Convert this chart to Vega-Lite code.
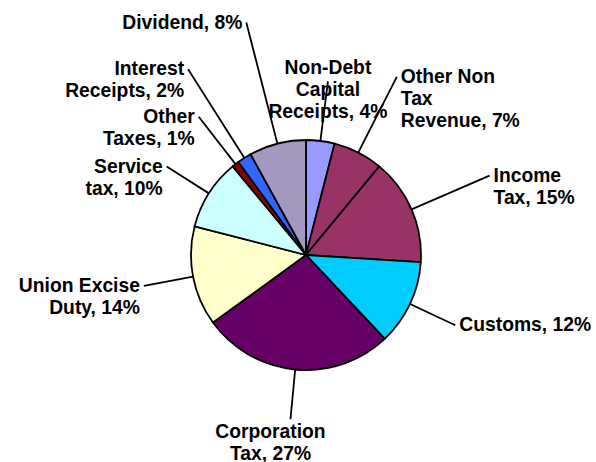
{
  "$schema": "https://vega.github.io/schema/vega-lite/v6.json",
  "width": 540,
  "height": 400,
  "autosize": {"type": "none"},
  "padding": {"left": 36, "top": 55, "right": 20, "bottom": 7},
  "background": "white",
  "config": {
    "view": {"stroke": null},
    "text": {"font": "Liberation Sans", "fontWeight": "bold", "fontSize": 19.3, "lineBreak": "\n", "lineHeight": 22, "color": "black"},
    "arc": {"stroke": "black", "strokeWidth": 1.8}
  },
  "data": {
    "values": [
      {"order": 1, "category": "Non-Debt Capital Receipts", "share": 4, "label": "Non-Debt\nCapital\nReceipts, 4%"},
      {"order": 2, "category": "Other Non Tax Revenue", "share": 7, "label": "Other Non\nTax\nRevenue, 7%"},
      {"order": 3, "category": "Income Tax", "share": 15, "label": "Income\nTax, 15%"},
      {"order": 4, "category": "Customs", "share": 12, "label": "Customs, 12%"},
      {"order": 5, "category": "Corporation Tax", "share": 27, "label": "Corporation\nTax, 27%"},
      {"order": 6, "category": "Union Excise Duty", "share": 14, "label": "Union Excise\nDuty, 14%"},
      {"order": 7, "category": "Service tax", "share": 10, "label": "Service\ntax, 10%"},
      {"order": 8, "category": "Other Taxes", "share": 1, "label": "Other\nTaxes, 1%"},
      {"order": 9, "category": "Interest Receipts", "share": 2, "label": "Interest\nReceipts, 2%"},
      {"order": 10, "category": "Dividend", "share": 8, "label": "Dividend, 8%"}
    ]
  },
  "encoding": {
    "theta": {"field": "share", "type": "quantitative", "stack": true},
    "order": {"field": "order", "type": "quantitative"}
  },
  "layer": [
    {
      "mark": {"type": "arc", "outerRadius": 115},
      "encoding": {
        "color": {
          "field": "category",
          "type": "nominal",
          "legend": null,
          "scale": {
            "domain": ["Non-Debt Capital Receipts", "Other Non Tax Revenue", "Income Tax", "Customs", "Corporation Tax", "Union Excise Duty", "Service tax", "Other Taxes", "Interest Receipts", "Dividend"],
            "range": ["#9999FF", "#993366", "#993366", "#00CCFF", "#660066", "#FFFFCC", "#CCFFFF", "#880000", "#3366FF", "#A399C0"]
          }
        }
      }
    },
    {
      "mark": {"type": "arc", "innerRadius": 115, "outerRadius": 165, "padAngle": 1.6, "fill": null},
      "encoding": {"strokeOpacity": {"condition": {"test": "indexof(['Customs', 'Corporation Tax', 'Union Excise Duty', 'Service tax'], datum.category) >= 0", "value": 1}, "value": 0}}
    },
    {
      "mark": {"type": "arc", "innerRadius": 115, "outerRadius": 175, "padAngle": 1.6, "fill": null},
      "encoding": {"strokeOpacity": {"condition": {"test": "indexof(['Non-Debt Capital Receipts', 'Other Taxes'], datum.category) >= 0", "value": 1}, "value": 0}}
    },
    {
      "mark": {"type": "arc", "innerRadius": 115, "outerRadius": 200, "padAngle": 1.6, "fill": null},
      "encoding": {"strokeOpacity": {"condition": {"test": "indexof(['Other Non Tax Revenue', 'Income Tax'], datum.category) >= 0", "value": 1}, "value": 0}}
    },
    {
      "mark": {"type": "arc", "innerRadius": 115, "outerRadius": 220, "padAngle": 1.6, "fill": null},
      "encoding": {"strokeOpacity": {"condition": {"test": "datum.category === 'Interest Receipts'", "value": 1}, "value": 0}}
    },
    {
      "mark": {"type": "arc", "innerRadius": 115, "outerRadius": 240, "padAngle": 1.6, "fill": null},
      "encoding": {"strokeOpacity": {"condition": {"test": "datum.category === 'Dividend'", "value": 1}, "value": 0}}
    },
    {
      "mark": {"type": "text", "radius": 175, "align": "center", "baseline": "bottom", "dy": -3},
      "encoding": {"text": {"condition": {"test": "datum.category === 'Non-Debt Capital Receipts'", "field": "label"}, "value": ""}}
    },
    {
      "mark": {"type": "text", "radius": 200, "align": "left", "baseline": "middle", "dx": 4},
      "encoding": {"text": {"condition": {"test": "indexof(['Other Non Tax Revenue', 'Income Tax'], datum.category) >= 0", "field": "label"}, "value": ""}}
    },
    {
      "mark": {"type": "text", "radius": 165, "align": "left", "baseline": "middle", "dx": 4},
      "encoding": {"text": {"condition": {"test": "datum.category === 'Customs'", "field": "label"}, "value": ""}}
    },
    {
      "mark": {"type": "text", "radius": 165, "align": "center", "baseline": "top", "dx": -20, "dy": 4},
      "encoding": {"text": {"condition": {"test": "datum.category === 'Corporation Tax'", "field": "label"}, "value": ""}}
    },
    {
      "mark": {"type": "text", "radius": 165, "align": "right", "baseline": "middle", "dx": -4},
      "encoding": {"text": {"condition": {"test": "indexof(['Union Excise Duty', 'Service tax'], datum.category) >= 0", "field": "label"}, "value": ""}}
    },
    {
      "mark": {"type": "text", "radius": 175, "align": "right", "baseline": "middle", "dx": -4},
      "encoding": {"text": {"condition": {"test": "datum.category === 'Other Taxes'", "field": "label"}, "value": ""}}
    },
    {
      "mark": {"type": "text", "radius": 220, "align": "right", "baseline": "middle", "dx": -4},
      "encoding": {"text": {"condition": {"test": "datum.category === 'Interest Receipts'", "field": "label"}, "value": ""}}
    },
    {
      "mark": {"type": "text", "radius": 240, "align": "right", "baseline": "middle", "dx": -4},
      "encoding": {"text": {"condition": {"test": "datum.category === 'Dividend'", "field": "label"}, "value": ""}}
    }
  ]
}
